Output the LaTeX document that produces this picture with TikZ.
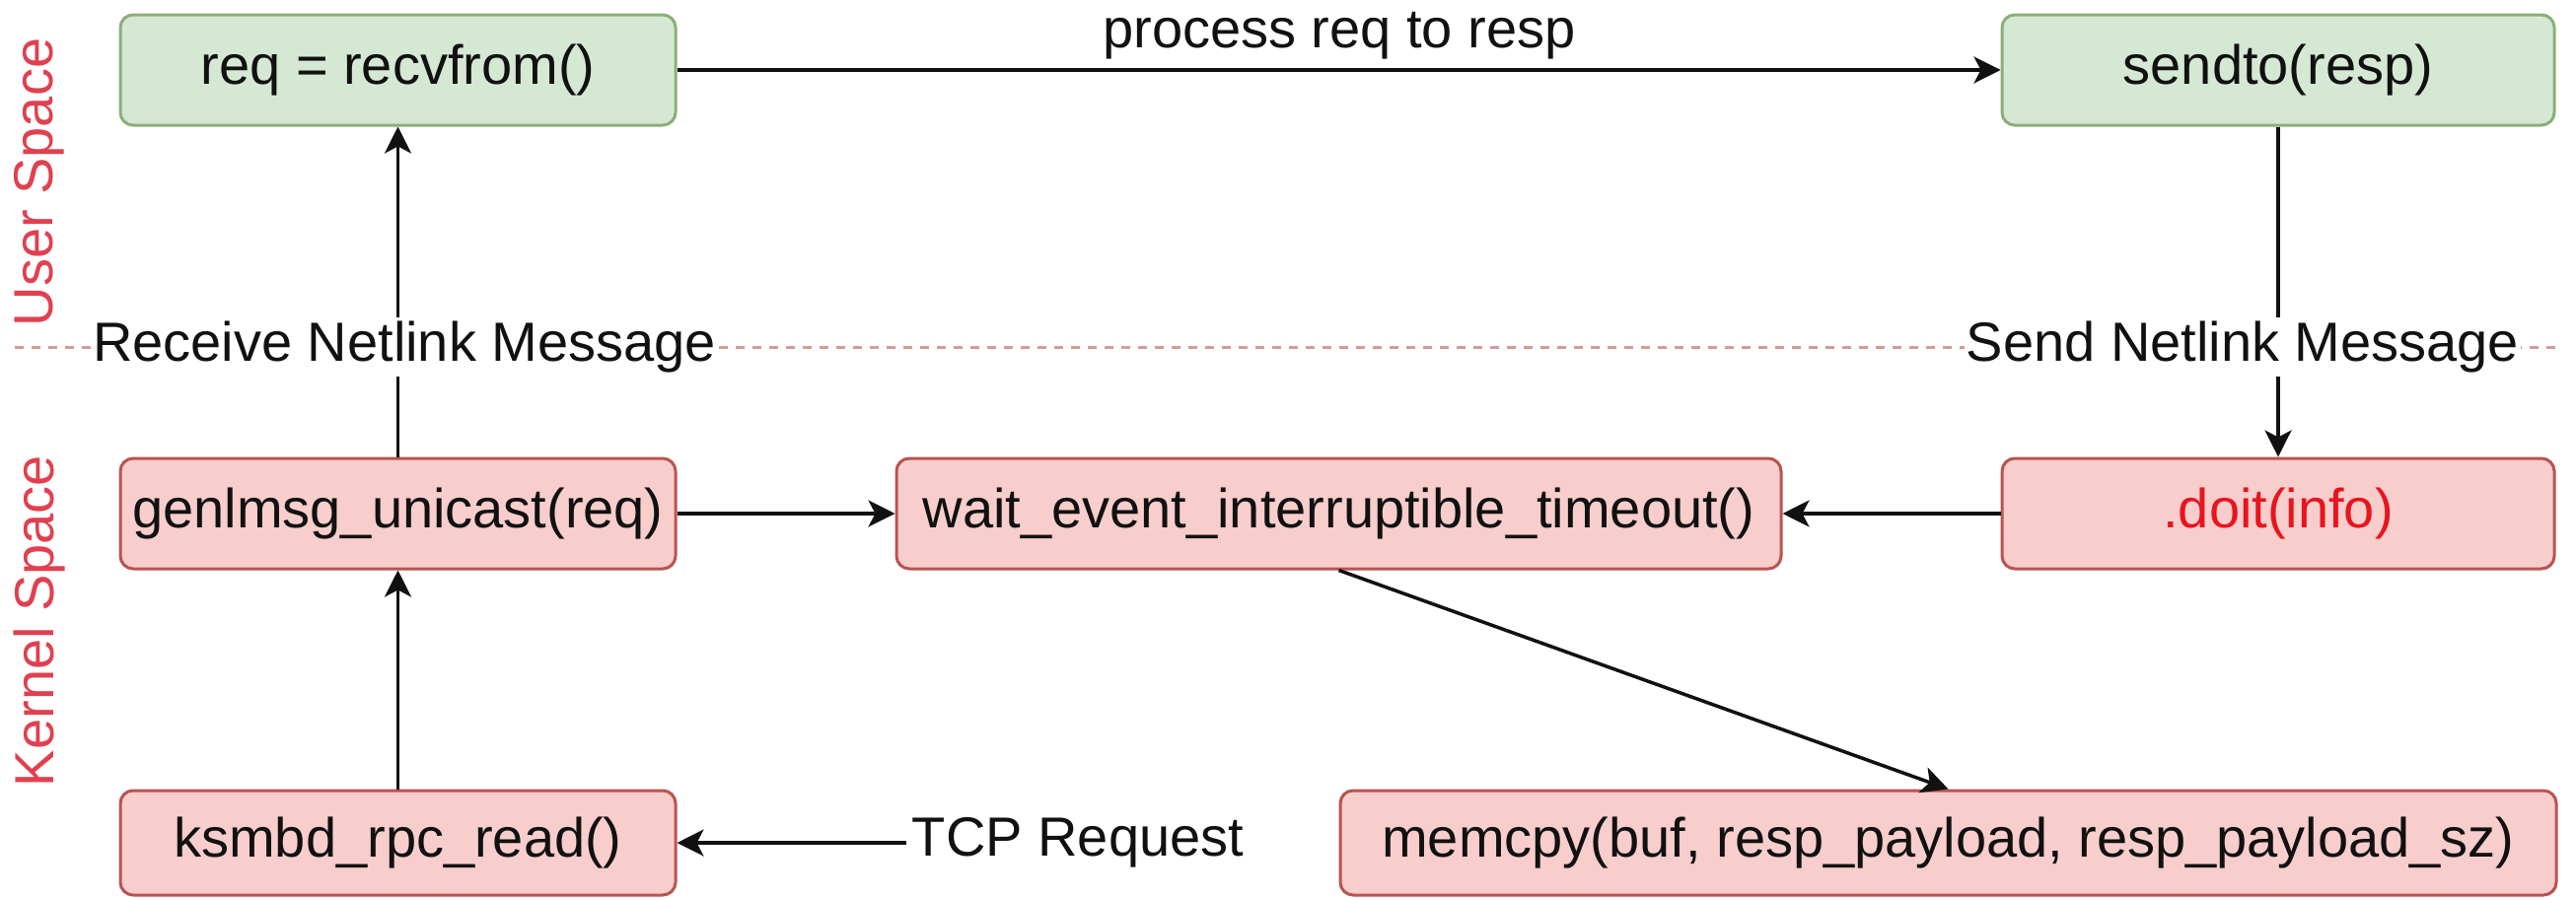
\documentclass[tikz,border=0pt]{standalone}
\usepackage{fontspec}
\setmainfont{Liberation Sans}
\usetikzlibrary{arrows.meta}

\definecolor{usrfill}{HTML}{D5E8D4}
\definecolor{usrdraw}{HTML}{8CAE78}
\definecolor{krnfill}{HTML}{F8CECC}
\definecolor{krndraw}{HTML}{B85450}
\definecolor{spacered}{HTML}{E0404F}
\definecolor{divider}{HTML}{CF9C9C}
\definecolor{doitred}{HTML}{E8141E}
\definecolor{ink}{HTML}{111111}

\begin{document}
\begin{tikzpicture}[x=1pt,y=-1pt,
  every node/.style={font=\fontsize{56}{62}\selectfont, text=ink},
  box/.style={rectangle, rounded corners=13pt, line width=3pt,
    minimum height=112pt, inner sep=0pt},
  userbox/.style={box, fill=usrfill, draw=usrdraw},
  kernbox/.style={box, fill=krnfill, draw=krndraw},
  flow/.style={line width=3.5pt, draw=ink,
    -{Stealth[length=27pt,width=27pt,inset=7pt]}},
  edgelabel/.style={fill=white, inner xsep=2pt, inner ysep=4pt},
  spacelabel/.style={text=spacered, rotate=90, inner sep=0pt}
]
% canvas
\fill[white] (0,0) rectangle (2612,910);
\useasboundingbox (0,0) rectangle (2612,910);

% user / kernel divider
\draw[divider, line width=3pt, dash pattern=on 9pt off 8pt] (15,352) -- (2592,352);

% side captions
\node[spacelabel] (userlbl) at (40,185) {User Space};
\node[spacelabel] (kernlbl) at (40,630) {Kernel Space};

% user space calls
\node[userbox, minimum width=563pt] (recv) at (403.5,71) {req = recvfrom()};
\node[userbox, minimum width=560pt] (send) at (2310,71) {sendto(resp)};

% kernel space calls
\node[kernbox, minimum width=563pt] (unicast) at (403.5,521) {genlmsg\_unicast(req)};
\node[kernbox, minimum width=897pt] (wait) at (1357.5,521) {wait\_event\_interruptible\_timeout()};
\node[kernbox, minimum width=560pt] (doit) at (2310,521) {\textcolor{doitred}{.doit(info)}};
\node[kernbox, minimum width=563pt, minimum height=106pt] (rpcread) at (403.5,855) {ksmbd\_rpc\_read()};
\node[kernbox, minimum width=1233pt, minimum height=106pt] (memcpy) at (1975.5,855) {memcpy(buf, resp\_payload, resp\_payload\_sz)};

% free-standing texts
\node (proc) at (1358,36) {process req to resp};
\node[inner sep=6pt] (tcp) at (1093,855) {TCP Request};

% message flow
\draw[flow] (recv) -- (send);
\draw[flow] (unicast) -- (recv);
\draw[flow] (rpcread) -- (unicast);
\draw[flow] (unicast) -- (wait);
\draw[flow] (doit) -- (wait);
\draw[flow] (send) -- (doit);
\draw[flow] (wait.south) -- (memcpy.north);
\draw[flow] (tcp) -- (rpcread);

% labels sitting on the divider
\node[edgelabel] (rxlabel) at (410,352) {Receive Netlink Message};
\node[edgelabel] (txlabel) at (2274,352) {Send Netlink Message};
\end{tikzpicture}
\end{document}
